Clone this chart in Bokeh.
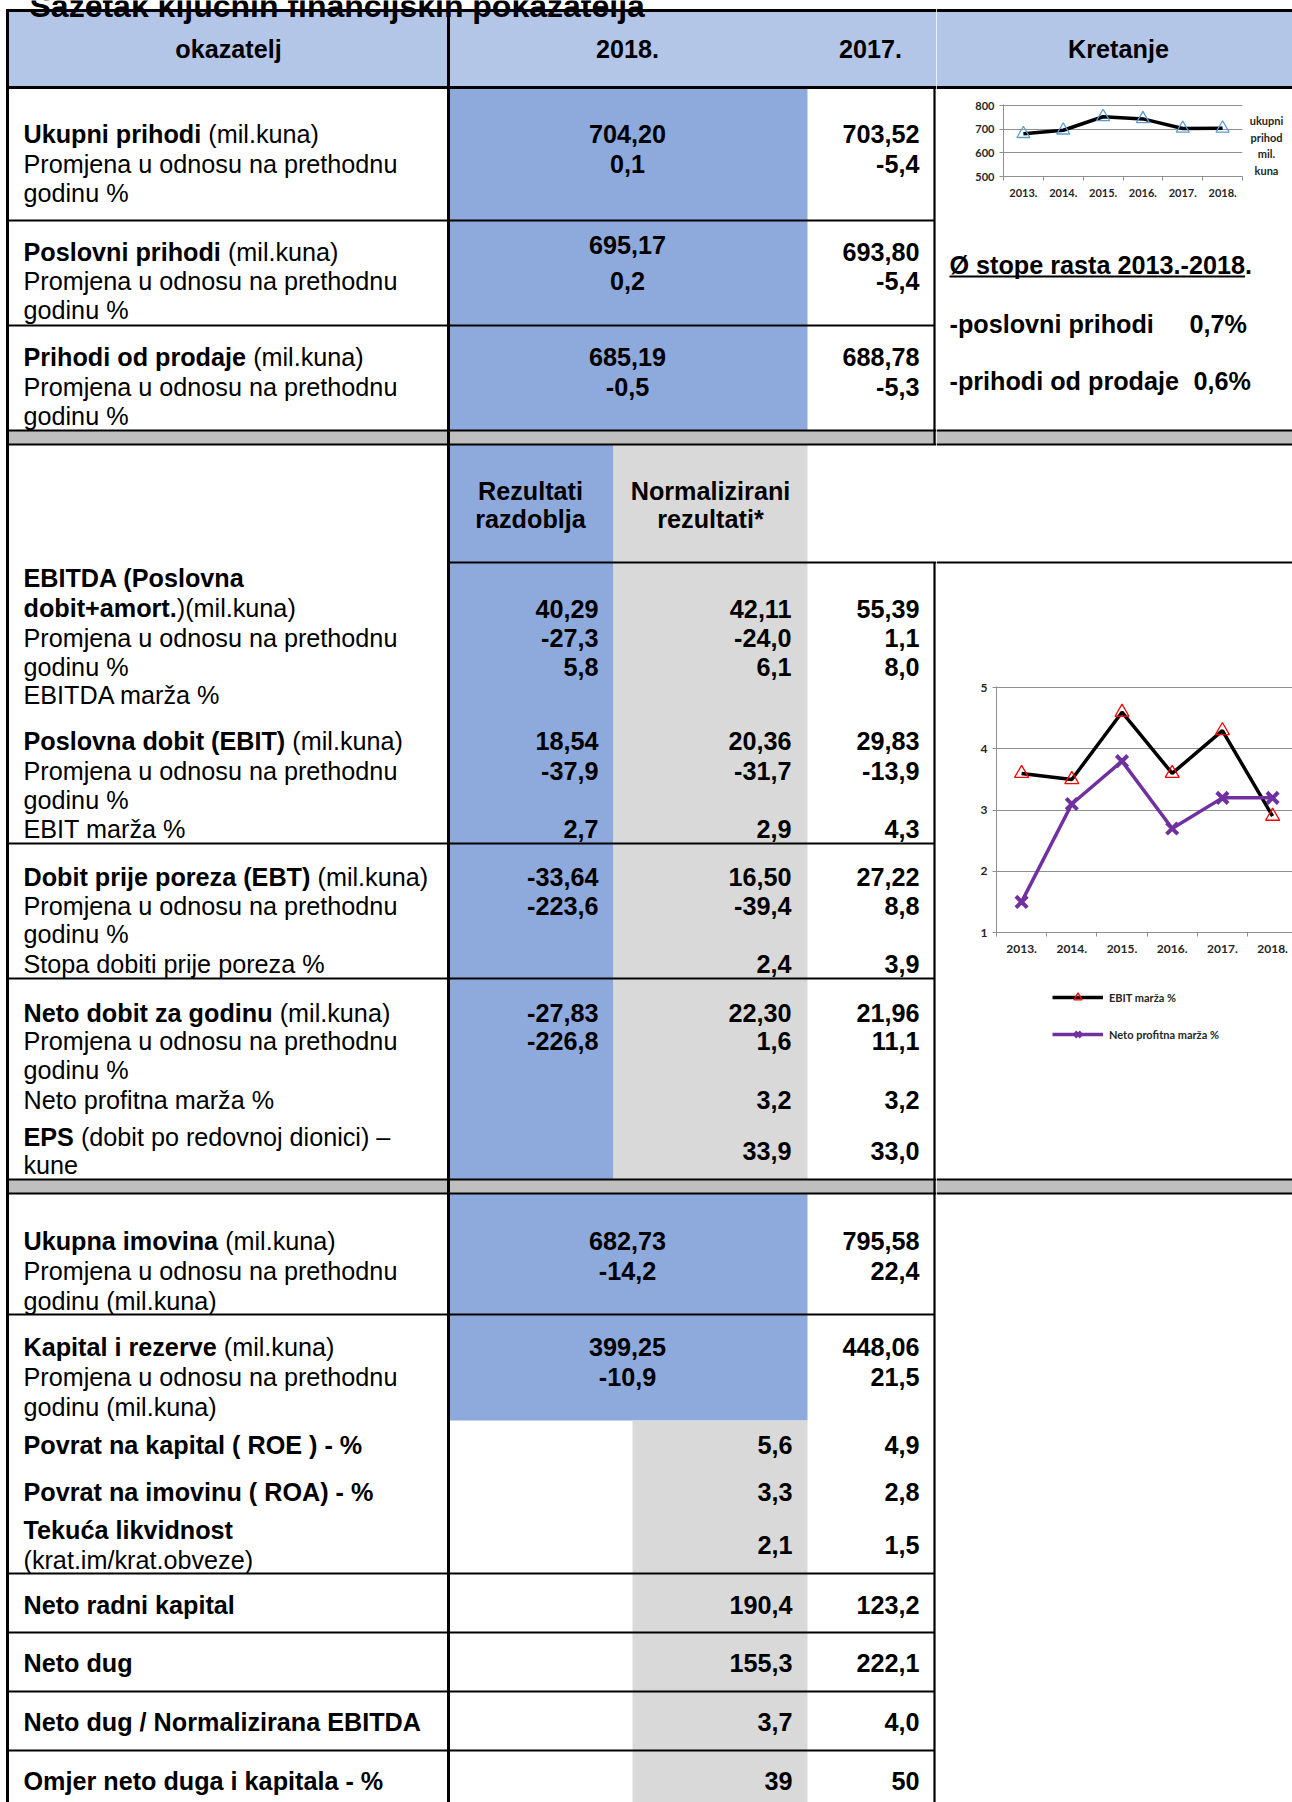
from bokeh.plotting import figure
from bokeh.layouts import row, column
from bokeh.models import Range1d, FixedTicker, Legend, LegendItem
from bokeh.embed import file_html
from bokeh.resources import INLINE
from bokeh.core.properties import value

# ---------------- DATA ----------------
title_text = "Sažetak ključnih financijskih pokazatelja"
col_headers = ["okazatelj", "2018.", "2017.", "Kretanje"]
sub_headers_rez = ["Rezultati", "razdoblja"]
sub_headers_norm = ["Normalizirani", "rezultati*"]

years = ["2013.", "2014.", "2015.", "2016.", "2017.", "2018."]
ukupni_prihod = [681, 696, 753, 744, 703.52, 704.20]
ebit_marza = [3.6, 3.5, 4.6, 3.6, 4.3, 2.9]
neto_profitna_marza = [1.5, 3.1, 3.8, 2.7, 3.2, 3.2]
chart1_legend = ["ukupni", "prihod", "mil.", "kuna"]
chart2_series = ["EBIT marža %", "Neto profitna marža %"]

growth_title = "Ø stope rasta 2013.-2018."
growth_labels = ["-poslovni prihodi", "-prihodi od prodaje"]
growth_values = ["0,7%", "0,6%"]

row_labels = [
    "**Ukupni prihodi** (mil.kuna)", "Promjena u odnosu na prethodnu", "godinu %",
    "**Poslovni prihodi** (mil.kuna)", "Promjena u odnosu na prethodnu", "godinu %",
    "**Prihodi od prodaje** (mil.kuna)", "Promjena u odnosu na prethodnu", "godinu %",
    "**EBITDA (Poslovna**", "**dobit+amort.**)(mil.kuna)", "Promjena u odnosu na prethodnu", "godinu %", "EBITDA marža %",
    "**Poslovna dobit (EBIT)** (mil.kuna)", "Promjena u odnosu na prethodnu", "godinu %", "EBIT marža %",
    "**Dobit prije poreza (EBT)** (mil.kuna)", "Promjena u odnosu na prethodnu", "godinu %", "Stopa dobiti prije poreza %",
    "**Neto dobit za godinu** (mil.kuna)", "Promjena u odnosu na prethodnu", "godinu %", "Neto profitna marža %",
    "**EPS** (dobit po redovnoj dionici) –", "kune",
    "**Ukupna imovina** (mil.kuna)", "Promjena u odnosu na prethodnu", "godinu (mil.kuna)",
    "**Kapital i rezerve** (mil.kuna)", "Promjena u odnosu na prethodnu", "godinu (mil.kuna)",
    "**Povrat na kapital ( ROE ) - %**",
    "**Povrat na imovinu ( ROA) - %**",
    "**Tekuća likvidnost**", "(krat.im/krat.obveze)",
    "**Neto radni kapital**",
    "**Neto dug**",
    "**Neto dug / Normalizirana EBITDA**",
    "**Omjer neto duga i kapitala - %**",
]

top_2018 = ["704,20", "0,1", "695,17", "0,2", "685,19", "-0,5"]
top_2017 = ["703,52", "-5,4", "693,80", "-5,4", "688,78", "-5,3"]

mid_rezultati = ["40,29", "-27,3", "5,8", "18,54", "-37,9", "2,7",
                 "-33,64", "-223,6", "", "-27,83", "-226,8", "", ""]
mid_normalizirani = ["42,11", "-24,0", "6,1", "20,36", "-31,7", "2,9",
                     "16,50", "-39,4", "2,4", "22,30", "1,6", "3,2", "33,9"]
mid_2017 = ["55,39", "1,1", "8,0", "29,83", "-13,9", "4,3",
            "27,22", "8,8", "3,9", "21,96", "11,1", "3,2", "33,0"]

low_2018 = ["682,73", "-14,2", "399,25", "-10,9"]
low_2017 = ["795,58", "22,4", "448,06", "21,5"]

ratio_2018 = ["5,6", "3,3", "2,1", "190,4", "155,3", "3,7", "39"]
ratio_2017 = ["4,9", "2,8", "1,5", "123,2", "222,1", "4,0", "50"]

# ---------------- LAYOUT (pixel positions, not data) ----------------
label_y = [133, 163, 192, 251, 280, 309, 356, 386, 415,
           577, 607, 637, 666, 694, 740, 770, 799, 828,
           876, 905, 933, 963, 1012, 1040, 1069, 1099, 1136, 1164,
           1240, 1270, 1300, 1346, 1376, 1406,
           1444, 1491, 1529, 1559, 1604, 1662, 1721, 1780]
top_2018_y = [133, 163, 244, 280, 356, 386]
top_2017_y = [133, 163, 251, 280, 356, 386]
mid_y = [608, 637, 666, 740, 770, 828, 876, 905, 963, 1012, 1040, 1099, 1150]
low_y = [1240, 1270, 1346, 1376]
ratio_y = [1444, 1491, 1544, 1604, 1662, 1721, 1780]

FONT = "Liberation Sans"
CFONT = "Lato"
FS = 25.2
W, H = 1292, 1802
SPLIT = 936

BLUE_L = "#B4C6E7"
BLUE = "#8EA9DB"
GRAY = "#D9D9D9"
BAND = "#BFBFBF"
GRID = "#8f8f8f"

REG = {" ": 278, "(": 333, ")": 333, "%": 889, "+": 584, "-": 333, ".": 278, "/": 278,
       "*": 389, "–": 556, ",": 278,
       "A": 667, "B": 667, "C": 722, "D": 722, "E": 667, "F": 611, "G": 778, "H": 722, "I": 278,
       "J": 500, "K": 667, "L": 556, "M": 833, "N": 722, "O": 778, "P": 667, "Q": 778, "R": 722,
       "S": 667, "T": 611, "U": 722, "V": 667, "W": 944, "X": 667, "Y": 667, "Z": 611,
       "a": 556, "b": 556, "c": 500, "d": 556, "e": 556, "f": 278, "g": 556, "h": 556, "i": 222,
       "j": 222, "k": 500, "l": 222, "m": 833, "n": 556, "o": 556, "p": 556, "q": 556, "r": 333,
       "s": 500, "t": 278, "u": 556, "v": 500, "w": 722, "x": 500, "y": 500, "z": 500,
       "ć": 500, "ž": 500, "Ø": 778}
BOLD = {" ": 278, "(": 333, ")": 333, "%": 889, "+": 584, "-": 333, ".": 278, "/": 278,
        "*": 389, "–": 556, ",": 278,
        "A": 722, "B": 722, "C": 722, "D": 722, "E": 667, "F": 611, "G": 778, "H": 722, "I": 278,
        "J": 556, "K": 722, "L": 611, "M": 833, "N": 722, "O": 778, "P": 667, "Q": 778, "R": 722,
        "S": 667, "T": 611, "U": 722, "V": 667, "W": 944, "X": 667, "Y": 667, "Z": 611,
        "a": 556, "b": 611, "c": 556, "d": 611, "e": 556, "f": 333, "g": 611, "h": 611, "i": 278,
        "j": 278, "k": 556, "l": 278, "m": 889, "n": 611, "o": 611, "p": 611, "q": 611, "r": 389,
        "s": 556, "t": 333, "u": 611, "v": 556, "w": 778, "x": 556, "y": 556, "z": 500,
        "ć": 556, "ž": 500, "Ø": 778}


def tw(s, bold, size=FS):
    tbl = BOLD if bold else REG
    return sum(tbl.get(c, 556) for c in s) * size / 1000.0


class Batch:
    def __init__(self):
        self.d = {}

    def add(self, x, y, s, bold=False, align="left", size=FS, font=FONT,
            baseline="middle", color="black"):
        if s == "":
            return
        k = (bold, align, size, font, baseline, color)
        xs, ys, ts = self.d.setdefault(k, ([], [], []))
        xs.append(x)
        ys.append(y)
        ts.append(s)

    def rich(self, x, y, s):
        cx = x
        for i, part in enumerate(s.split("**")):
            bold = (i % 2 == 1)
            if not part:
                continue
            lead = len(part) - len(part.lstrip(" "))
            st = part.strip(" ")
            if st:
                self.add(cx + tw(" " * lead, bold), y, st, bold=bold)
            cx += tw(part, bold)

    def draw(self, p):
        for (bold, align, size, font, baseline, color), (xs, ys, ts) in self.d.items():
            p.text(x=xs, y=ys, text=ts, text_font=value(font),
                   text_font_size=f"{size}px",
                   text_font_style="bold" if bold else "normal",
                   text_align=align, text_baseline=baseline, text_color=color)


def panel(x0, x1, y0, y1):
    p = figure(width=x1 - x0, height=y1 - y0, x_range=Range1d(x0, x1), y_range=Range1d(y1, y0),
               x_axis_type=None, y_axis_type=None, output_backend="svg",
               toolbar_location=None, min_border=0)
    p.outline_line_color = None
    p.background_fill_color = "white"
    p.border_fill_color = "white"
    return p


def quads(p, boxes, color):
    p.quad(left=[b[0] for b in boxes], right=[b[1] for b in boxes],
           top=[b[2] for b in boxes], bottom=[b[3] for b in boxes],
           fill_color=color, line_color=None)


def hlines(p, segs, w):
    p.segment(x0=[s[1] for s in segs], x1=[s[2] for s in segs],
              y0=[s[0] for s in segs], y1=[s[0] for s in segs],
              line_color="black", line_width=w)


def vlines(p, segs, w):
    p.segment(x0=[s[0] for s in segs], x1=[s[0] for s in segs],
              y0=[s[1] for s in segs], y1=[s[2] for s in segs],
              line_color="black", line_width=w)


# ---------------- LEFT TABLE ----------------
L = panel(0, SPLIT, 0, H)
quads(L, [(7, SPLIT, 10, 87)], BLUE_L)
quads(L, [(448, 807, 87, 430), (448, 613, 444, 1179), (448, 807, 1193, 1420)], BLUE)
quads(L, [(613, 807, 444, 1179), (632, 807, 1420, H)], GRAY)
quads(L, [(7, SPLIT, 430, 444), (7, SPLIT, 1179, 1193)], BAND)

hlines(L, [(10, 5.5, SPLIT), (87, 5.5, SPLIT)], 3)
vlines(L, [(7, 10, H), (448, 10, H)], 3)
vlines(L, [(934, 87, 444), (934, 562, H)], 2.2)
hlines(L, [(220, 7, 934), (325, 7, 934), (430, 7, SPLIT), (444, 7, SPLIT),
           (562, 448, SPLIT), (843, 7, 934), (978, 7, 934), (1179, 7, SPLIT), (1193, 7, SPLIT),
           (1314, 7, 934), (1573, 7, 934), (1632, 7, 934), (1691, 7, 934), (1750, 7, 934)], 2)

tb = Batch()
tb.add(29, 5, title_text, bold=True, size=32, baseline="alphabetic")
tb.add(228, 48, col_headers[0], bold=True, align="center")
tb.add(627, 48, col_headers[1], bold=True, align="center")
tb.add(870, 48, col_headers[2], bold=True, align="center")
for s, y in zip(sub_headers_rez, [490, 518]):
    tb.add(530, y, s, bold=True, align="center")
for s, y in zip(sub_headers_norm, [490, 518]):
    tb.add(710, y, s, bold=True, align="center")
for s, y in zip(row_labels, label_y):
    tb.rich(23, y, s)
for s, y in zip(top_2018, top_2018_y):
    tb.add(627, y, s, bold=True, align="center")
for s, y in zip(top_2017, top_2017_y):
    tb.add(919, y, s, bold=True, align="right")
for a, b, c, y in zip(mid_rezultati, mid_normalizirani, mid_2017, mid_y):
    tb.add(598, y, a, bold=True, align="right")
    tb.add(791, y, b, bold=True, align="right")
    tb.add(919, y, c, bold=True, align="right")
for a, b, y in zip(low_2018, low_2017, low_y):
    tb.add(627, y, a, bold=True, align="center")
    tb.add(919, y, b, bold=True, align="right")
for a, b, y in zip(ratio_2018, ratio_2017, ratio_y):
    tb.add(792, y, a, bold=True, align="right")
    tb.add(919, y, b, bold=True, align="right")
tb.draw(L)

# ---------------- RIGHT COLUMN ----------------
R1 = panel(SPLIT, W, 0, 95)
quads(R1, [(SPLIT, W, 10, 87)], BLUE_L)
hlines(R1, [(10, SPLIT, W), (87, SPLIT, W)], 3)
b1 = Batch()
b1.add(1118, 48, col_headers[3], bold=True, align="center")
b1.draw(R1)


def style_chart(p, fsize, nyt):
    p.outline_line_color = None
    p.background_fill_color = "white"
    p.border_fill_color = "white"
    xa, ya = p.xaxis[0], p.yaxis[0]
    xa.ticker = FixedTicker(ticks=[i + 0.5 for i in range(len(years))],
                            minor_ticks=list(range(len(years) + 1)))
    xa.major_label_overrides = {i + 0.5: years[i] for i in range(len(years))}
    xa.major_tick_out = 0
    xa.major_tick_in = 0
    xa.major_tick_line_color = None
    xa.minor_tick_out = 4
    xa.minor_tick_in = 0
    xa.minor_tick_line_color = GRID
    xa.axis_line_color = GRID
    xa.major_label_standoff = 8
    ya.ticker = FixedTicker(ticks=nyt)
    ya.major_tick_out = 4
    ya.major_tick_in = 0
    ya.minor_tick_line_color = None
    ya.major_tick_line_color = GRID
    ya.axis_line_color = GRID
    ya.major_label_standoff = 5
    for ax in (xa, ya):
        ax.major_label_text_font = CFONT
        ax.major_label_text_font_style = "bold"
        ax.major_label_text_font_size = f"{fsize}px"
        ax.major_label_text_color = "#262626"
    p.xgrid.visible = False
    p.ygrid.grid_line_color = GRID
    p.ygrid.grid_line_width = 1


xs = [i + 0.5 for i in range(len(years))]

C1 = figure(width=308, height=110, x_range=Range1d(0, 6), y_range=Range1d(500, 805),
            output_backend="svg", toolbar_location=None,
            min_border_left=67, min_border_right=2, min_border_top=9, min_border_bottom=29)
style_chart(C1, 11, [500, 600, 700, 800])
C1.line(x=xs, y=ukupni_prihod, line_color="black", line_width=3.5)
C1.scatter(x=xs, y=ukupni_prihod, marker="triangle", size=13, fill_alpha=0,
           line_color="#5B9BD5", line_width=1.3)

T1 = panel(1244, W, 95, 205)
bt = Batch()
for s, y in zip(chart1_legend, [120, 137, 153, 170]):
    bt.add(1266, y, s, bold=True, align="center", size=11, font=CFONT, color="#262626")
bt.draw(T1)

R2 = panel(SPLIT, W, 205, 566)
quads(R2, [(SPLIT, W, 430, 444)], BAND)
hlines(R2, [(430, SPLIT, W), (444, SPLIT, W), (562, SPLIT, W)], 2)
b2 = Batch()
b2.add(949, 264, growth_title, bold=True)
b2.add(949, 323, growth_labels[0], bold=True)
b2.add(1189, 323, growth_values[0], bold=True)
b2.add(949, 380, growth_labels[1], bold=True)
b2.add(1193, 380, growth_values[1], bold=True)
b2.draw(R2)
ul = tw(growth_title[:-1], True)
R2.segment(x0=[949], x1=[949 + ul], y0=[276], y1=[276], line_color="black", line_width=2)

C2 = figure(width=356, height=396, x_range=Range1d(0, 296 / 50.2), y_range=Range1d(1, 5.02),
            output_backend="svg", toolbar_location=None,
            min_border_left=60, min_border_right=0, min_border_top=120, min_border_bottom=30)
style_chart(C2, 12, [1, 2, 3, 4, 5])
C2.line(x=xs, y=ebit_marza, line_color="black", line_width=3.5)
C2.scatter(x=xs, y=ebit_marza, marker="triangle", size=14, fill_alpha=0,
           line_color="red", line_width=1.3)
C2.line(x=xs, y=neto_profitna_marza, line_color="#7030A0", line_width=3.5)
C2.scatter(x=xs, y=neto_profitna_marza, marker="x", size=16,
           line_color="#7030A0", line_width=4)

# legend panel: proxy renderers carry the same series but are hidden; only the legend shows them
LG = figure(width=356, height=100, x_range=Range1d(0, 1), y_range=Range1d(0, 1),
            x_axis_type=None, y_axis_type=None, output_backend="svg",
            toolbar_location=None, min_border=0)
LG.outline_line_color = None
LG.grid.visible = False
l1 = LG.line(x=xs, y=ebit_marza, line_color="black", line_width=3.5, visible=False)
m1 = LG.scatter(x=xs, y=ebit_marza, marker="triangle", size=10, fill_alpha=0,
                line_color="red", line_width=1.3, visible=False)
l2 = LG.line(x=xs, y=neto_profitna_marza, line_color="#7030A0", line_width=3.5, visible=False)
m2 = LG.scatter(x=xs, y=neto_profitna_marza, marker="x", size=10, line_color="#7030A0",
                line_width=3, visible=False)
leg = Legend(items=[LegendItem(label=chart2_series[0], renderers=[l1, m1]),
                    LegendItem(label=chart2_series[1], renderers=[l2, m2])],
             location=(116, 18), orientation="vertical", glyph_width=51, glyph_height=20,
             label_height=20, spacing=17, padding=0, margin=0, border_line_color=None,
             background_fill_alpha=0, label_standoff=6,
             label_text_font=CFONT, label_text_font_size="11px",
             label_text_font_style="bold", label_text_color="#262626")
LG.add_layout(leg)

R3 = panel(SPLIT, W, 1062, H)
quads(R3, [(SPLIT, W, 1179, 1193)], BAND)
hlines(R3, [(1179, SPLIT, W), (1193, SPLIT, W)], 2)

right = column(row(R1), row(C1, column(T1)), row(R2), row(C2), row(LG), row(R3))
root = row(L, right)

open("out.html", "w").write(file_html(root, INLINE))
